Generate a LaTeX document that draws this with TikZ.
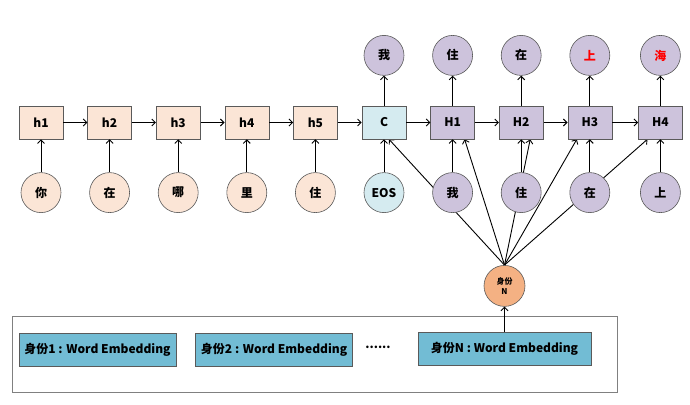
\documentclass[tikz,border=0pt]{standalone}
\usepackage{fontspec}
\setmainfont{Noto Sans CJK SC}
\usepackage{tikz}
\usetikzlibrary{arrows.meta,positioning,fit,backgrounds}

\definecolor{peach}{HTML}{FBE5D6}
\definecolor{iceblue}{HTML}{D5EBF0}
\definecolor{lavender}{HTML}{CDC3DC}
\definecolor{apricot}{HTML}{F4B183}
\definecolor{teal}{HTML}{72BCD4}
\definecolor{edge}{HTML}{5A5A5A}

\begin{document}
\begin{tikzpicture}[
    x=1pt, y=-1pt,
    font=\bfseries\fontsize{12}{14}\selectfont,
    >={Straight Barb[length=3.5pt,width=7pt]},
    flow/.style={->, line width=0.9pt},
    cell/.style={
        draw=edge,
        minimum width=44pt,
        minimum height=33pt,
        inner sep=0pt,
        line width=0.6pt
    },
    enc/.style={cell, fill=peach},
    ctx/.style={cell, fill=iceblue},
    dec/.style={cell, fill=lavender},
    token/.style={
        circle,
        draw=edge,
        minimum size=40pt,
        inner sep=0pt,
        line width=0.6pt
    },
    encin/.style={token, fill=peach},
    ctxin/.style={token, fill=iceblue},
    decin/.style={token, fill=lavender},
    persona/.style={
        token,
        fill=apricot,
        minimum size=41pt,
        align=center,
        font=\bfseries\fontsize{8}{10}\selectfont
    },
    embed/.style={
        draw=edge,
        fill=teal,
        minimum height=33pt,
        inner sep=0pt,
        line width=0.6pt
    },
    group/.style={
        draw=gray,
        inner sep=0pt,
        line width=0.6pt
    }
]
\useasboundingbox (0,0) rectangle (690,404);

% Encoder
\node[enc] (h1) at (41,122.5) {h1};
\node[enc, right=24pt of h1] (h2) {h2};
\node[enc, right=24pt of h2] (h3) {h3};
\node[enc, right=24pt of h3] (h4) {h4};
\node[enc, right=24pt of h4] (h5) {h5};

% Context and decoder
\node[ctx, right=24pt of h5] (C) {C};
\node[dec, right=24pt of C] (H1) {H1};
\node[dec, right=24pt of H1] (H2) {H2};
\node[dec, right=24pt of H2] (H3) {H3};
\node[dec, right=26pt of H3] (H4) {H4};

% Inputs
\node[encin, below=33pt of h1] (x1) {你};
\node[encin, below=33pt of h2] (x2) {在};
\node[encin, below=33pt of h3] (x3) {哪};
\node[encin, below=33pt of h4] (x4) {里};
\node[encin, below=33pt of h5] (x5) {住};
\node[ctxin, below=33pt of C] (eos) {EOS};
\node[decin, below=33pt of H1] (y1) {我};
\node[decin, below=33pt of H2] (y2) {住};
\node[decin, below=33pt of H3] (y3) {在};
\node[decin, below=33pt of H4] (y4) {上};

% Outputs
\node[decin, above=30pt of C] (o0) {我};
\node[decin, above=30pt of H1] (o1) {住};
\node[decin, above=30pt of H2] (o2) {在};
\node[decin, above=30pt of H3] (o3) {\color{red}上};
\node[decin, above=30pt of H4] (o4) {\color{red}海};

% Persona embeddings
\node[group, fit={(12,316) (617,392)}] (pool) {};
\node[embed, minimum width=157pt] (e1) at (97.5,349.5) {身份1 : Word Embedding};
\node[embed, minimum width=157pt, right=19pt of e1] (e2) {身份2 : Word Embedding};
\node (dots) at (378,347) {......};
\node[embed, minimum width=173pt] (eN) at (504.5,348.5) {身份N : Word Embedding};
\node[persona, above=25pt of eN] (N) {身份\\N};

% Data flow
\draw[flow] (h1) -- (h2);
\draw[flow] (h2) -- (h3);
\draw[flow] (h3) -- (h4);
\draw[flow] (h4) -- (h5);
\draw[flow] (h5) -- (C);
\draw[flow] (C) -- (H1);
\draw[flow] (H1) -- (H2);
\draw[flow] (H2) -- (H3);
\draw[flow] (H3) -- (H4);

\draw[flow] (x1) -- (h1);
\draw[flow] (x2) -- (h2);
\draw[flow] (x3) -- (h3);
\draw[flow] (x4) -- (h4);
\draw[flow] (x5) -- (h5);
\draw[flow] (eos) -- (C);
\draw[flow] (y1) -- (H1);
\draw[flow] (y2) -- (H2);
\draw[flow] (y3) -- (H3);
\draw[flow] (y4) -- (H4);

\draw[flow] (C) -- (o0);
\draw[flow] (H1) -- (o1);
\draw[flow] (H2) -- (o2);
\draw[flow] (H3) -- (o3);
\draw[flow] (H4) -- (o4);

\draw[flow] (eN) -- (N);

% Persona feeds every decoder step
\begin{scope}[on background layer]
\draw[flow] (N.north) -- ([xshift=5pt]C.south);
\draw[flow] (N.north) -- ([xshift=12pt]H1.south);
\draw[flow] (N.north) -- ([xshift=9pt]H2.south);
\draw[flow] (N.north) -- ([xshift=-13pt]H3.south);
\draw[flow] (N.north) -- ([xshift=-13pt]H4.south);
\end{scope}

\end{tikzpicture}
\end{document}
